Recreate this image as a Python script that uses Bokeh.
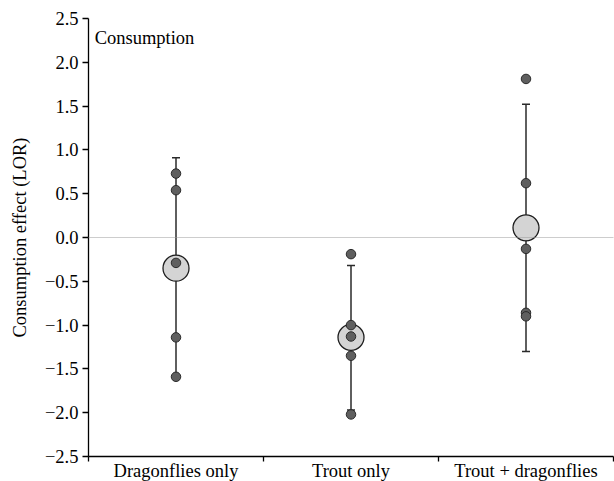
from bokeh.plotting import figure
from bokeh.models import Range1d, FixedTicker, Span, Label, ColumnDataSource
from bokeh.embed import file_html
from bokeh.resources import INLINE

# ---- data ----
categories = ["Dragonflies only", "Trout only", "Trout + dragonflies"]
mean_effect = [-0.35, -1.14, 0.11]
ci_upper = [0.91, -0.32, 1.52]
ci_lower = [-1.58, -1.97, -1.30]
study_points = [
    [0.73, 0.54, -0.29, -1.14, -1.59],
    [-0.19, -1.00, -1.13, -1.35, -2.02],
    [1.81, 0.62, -0.13, -0.86, -0.90],
]
y_ticks = [-2.5, -2.0, -1.5, -1.0, -0.5, 0.0, 0.5, 1.0, 1.5, 2.0, 2.5]
y_tick_labels = ["\u22122.5", "\u22122.0", "\u22121.5", "\u22121.0", "\u22120.5",
                 "0.0", "0.5", "1.0", "1.5", "2.0", "2.5"]

FONT = "Liberation Serif"

xpos = [i + 0.5 for i in range(len(categories))]

p = figure(frame_width=525, frame_height=438, output_backend="svg",
           toolbar_location=None, x_range=Range1d(0, 3), y_range=Range1d(-2.5, 2.5),
           min_border_left=88, min_border_right=1, min_border_top=18, min_border_bottom=0)
p.outline_line_color = None
p.grid.visible = False
p.background_fill_color = "white"
p.border_fill_color = "white"

# zero line
p.add_layout(Span(location=0, dimension="width", line_color="#9a9a9a",
                  line_dash="1 1", line_width=1))

# error bars
eb = ColumnDataSource(dict(x=xpos, lo=ci_lower, hi=ci_upper, m=mean_effect))
p.segment(x0="x", y0="lo", x1="x", y1="hi", source=eb, line_color="#2a2a2a", line_width=1.5)
p.scatter(x="x", y="hi", source=eb, marker="dash", size=8, line_color="#2a2a2a", line_width=1.5)
p.scatter(x="x", y="lo", source=eb, marker="dash", size=8, line_color="#2a2a2a", line_width=1.5)

# means
p.scatter(x="x", y="m", source=eb, marker="circle", size=26, fill_color="#d4d4d4",
          line_color="#1e1e1e", line_width=1.3)

# individual points
px, py = [], []
for i, pts in enumerate(study_points):
    for v in pts:
        px.append(xpos[i])
        py.append(v)
p.scatter(px, py, marker="circle", size=9.5, fill_color="#5f5f5f",
          line_color="#2a2a2a", line_width=1)

# axes
xa = p.xaxis[0]
xa.ticker = FixedTicker(ticks=xpos, minor_ticks=[0, 1, 2, 3])
xa.major_label_overrides = {x: c for x, c in zip(xpos, categories)}
xa.major_tick_out = 0
xa.major_tick_in = 0
xa.minor_tick_out = 5
xa.minor_tick_in = 0
xa.minor_tick_line_color = "black"
xa.axis_line_color = "black"
xa.axis_line_width = 1.3
xa.minor_tick_line_width = 1.3
xa.major_label_standoff = -1
xa.major_label_text_font = FONT
xa.major_label_text_font_size = "18.5px"
xa.major_label_text_color = "black"

ya = p.yaxis[0]
ya.ticker = FixedTicker(ticks=y_ticks, minor_ticks=[])
ya.major_label_overrides = {t: s for t, s in zip(y_ticks, y_tick_labels)}
ya.major_tick_out = 6
ya.major_tick_in = 0
ya.axis_line_color = "black"
ya.axis_line_width = 1.3
ya.major_tick_line_width = 1.3
ya.major_label_standoff = 4
ya.major_label_text_font = FONT
ya.major_label_text_font_size = "18.5px"
ya.major_label_text_color = "black"
ya.axis_label = "Consumption effect (LOR)"
ya.axis_label_text_font = FONT
ya.axis_label_text_font_size = "18.5px"
ya.axis_label_text_font_style = "normal"
ya.axis_label_text_color = "black"
ya.axis_label_standoff = 12

p.add_layout(Label(x=0.035, y=2.28, text="Consumption", text_font=FONT,
                   text_font_size="18.5px", text_baseline="middle", text_color="black"))

open("out.html", "w").write(file_html(p, INLINE))
